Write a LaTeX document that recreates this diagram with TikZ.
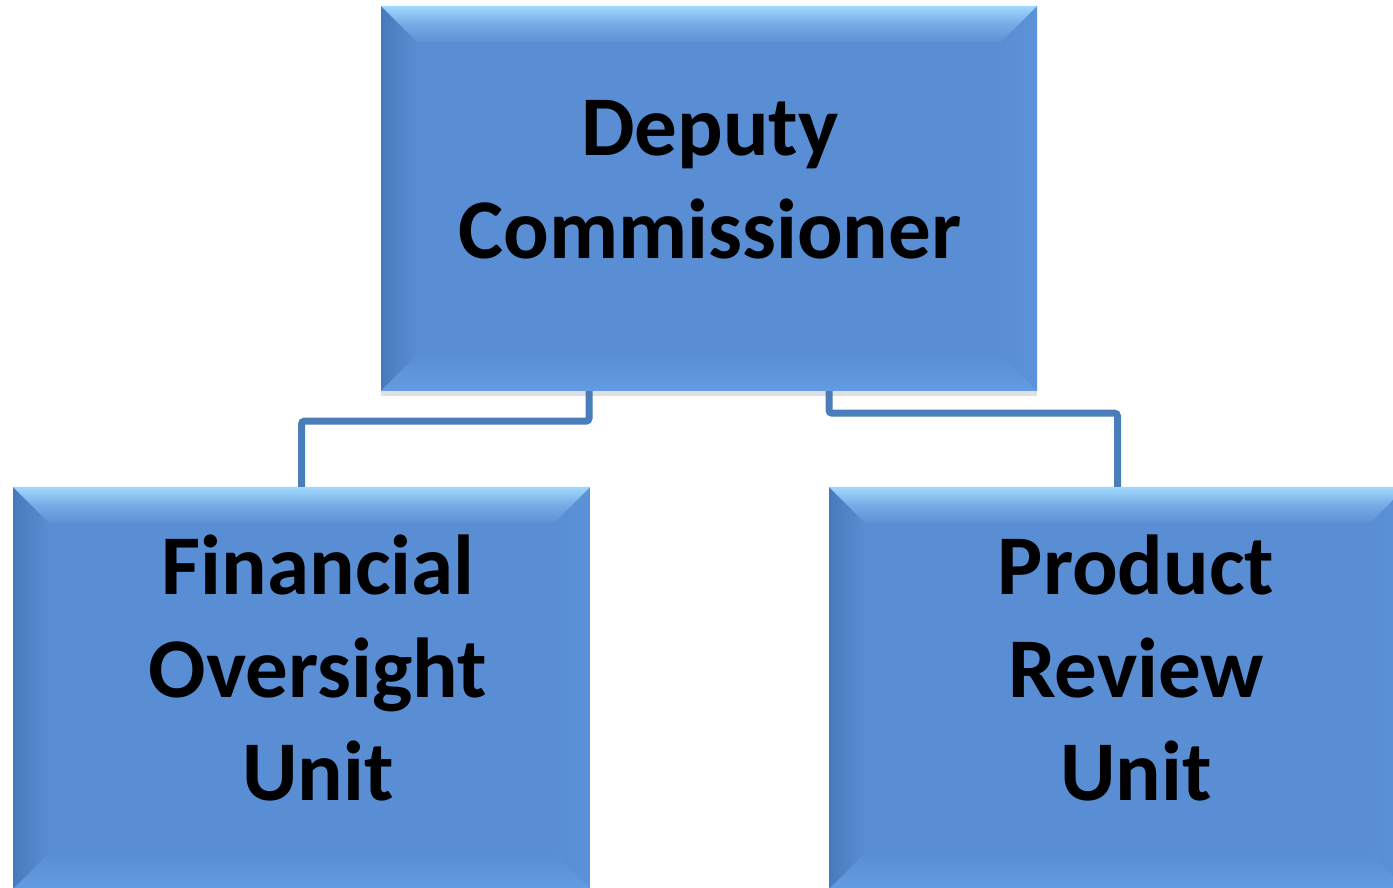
\documentclass[tikz,border=0pt]{standalone}
\usepackage{fontspec}
\setmainfont{Carlito}
\usetikzlibrary{shadows}
\begin{document}
\begin{tikzpicture}[x=1pt,y=1pt]
\definecolor{face}{RGB}{89,142,212}
\definecolor{bevtop}{RGB}{160,216,255}
\definecolor{bevleft}{RGB}{72,122,188}
\definecolor{bevbot}{RGB}{98,156,226}
\definecolor{bevright}{RGB}{92,146,216}
\definecolor{link}{RGB}{74,126,187}
\tikzset{
  unitbox/.style={rectangle, inner sep=0pt, fill=face,
    drop shadow={shadow xshift=0pt, shadow yshift=-5pt, fill=black, opacity=.12},
    path picture={
      \def\bv{36}
      \coordinate (nw) at (path picture bounding box.north west);
      \coordinate (ne) at (path picture bounding box.north east);
      \coordinate (sw) at (path picture bounding box.south west);
      \coordinate (se) at (path picture bounding box.south east);
      \shade[left color=bevleft, right color=face!97!bevleft]
        (nw) -- ([shift={(\bv,-\bv)}]nw) -- ([shift={(\bv,\bv)}]sw) -- (sw) -- cycle;
      \shade[right color=bevright, left color=face]
        (ne) -- ([shift={(-\bv,-\bv)}]ne) -- ([shift={(-\bv,\bv)}]se) -- (se) -- cycle;
      \shade[bottom color=bevbot, top color=face]
        (sw) -- ([shift={(\bv,\bv)}]sw) -- ([shift={(-\bv,\bv)}]se) -- (se) -- cycle;
      \shade[top color=bevtop, bottom color=face!96!bevtop, middle color=face!60!bevtop]
        (nw) -- (ne) -- ([shift={(-\bv,-\bv)}]ne) -- ([shift={(\bv,-\bv)}]nw) -- cycle;
    }},
  unittext/.style={font=\bfseries\fontsize{85}{103}\selectfont, align=center, text=black},
  connector/.style={draw=link, line width=7pt, rounded corners=3pt}
}
\useasboundingbox (0,0) rectangle (1393,887);
\clip (0,0) rectangle (1393,887);

% boxes
\node[unitbox, minimum width=656, minimum height=385] (dc)  at (709,688.5) {};
\node[unitbox, minimum width=577, minimum height=402] (fou) at (301.5,199) {};
\node[unitbox, minimum width=577, minimum height=402] (pru) at (1117.5,199) {};

% labels
\node[unittext] (dct)  at (710,707) {Deputy\\Commissioner};
\node[unittext] (fout) at (318,219) {Financial\\Oversight\\Unit};
\node[unittext] (prut) at (1136,219) {Product\\Review\\Unit};

% connectors
\draw[connector] ([xshift=-120pt]dc.south) -- ++(0,-30) -| (fou.north);
\draw[connector] ([xshift=120pt]dc.south) -- ++(0,-22) -| (pru.north);
\end{tikzpicture}
\end{document}
